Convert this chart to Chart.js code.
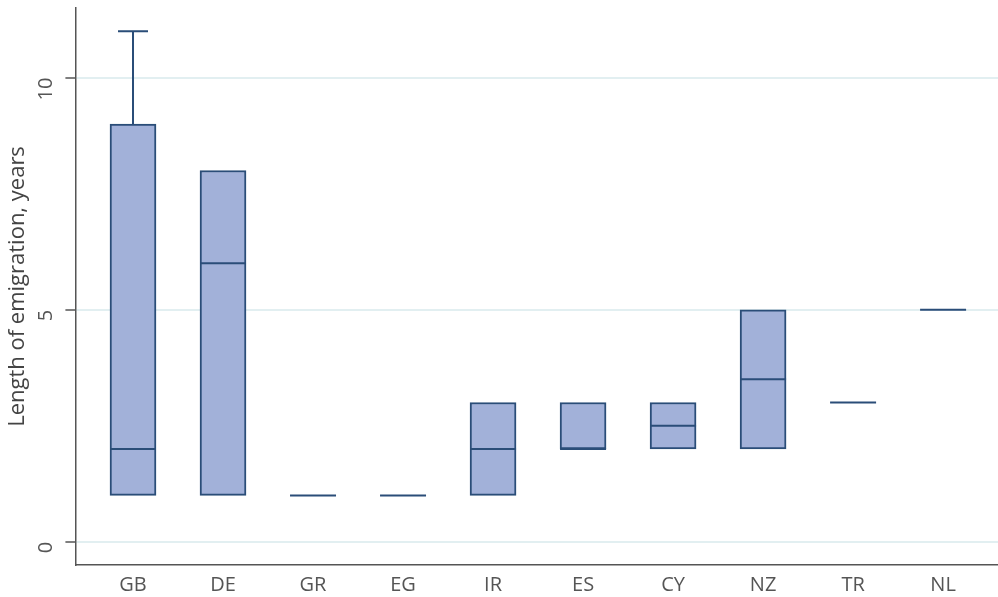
<!DOCTYPE html>
<html>
<head>
<meta charset="utf-8">
<script src="https://cdn.jsdelivr.net/npm/chart.js@4/dist/chart.umd.min.js"></script>
<style>
  html, body { margin: 0; padding: 0; background: #fff; }
  canvas { display: block; }
</style>
</head>
<body>
<canvas id="boxChart" width="998" height="597"></canvas>
<script>
// Du lieu hop (box plot) theo quoc gia
const categories = ['GB', 'DE', 'GR', 'EG', 'IR', 'ES', 'CY', 'NZ', 'TR', 'NL'];
const q1Values = [1, 1, 1, 1, 1, 2, 2, 2, 3, 5];
const medianValues = [2, 6, 1, 1, 2, 2, 2.5, 3.5, 3, 5];
const q3Values = [9, 8, 1, 1, 3, 3, 3, 5, 3, 5];
const whiskerLow = [1, 1, 1, 1, 1, 2, 2, 2, 3, 5];
const whiskerHigh = [11, 8, 1, 1, 3, 3, 3, 5, 3, 5];
const yTicks = [0, 5, 10];

const boxFill = '#a2b1d9';
const boxLine = '#2a4d78';
const BOX_WIDTH = 46;
const CAP_WIDTH = 30;

// Ve trung vi va rau (whisker) bang thang do cua Chart.js
const boxExtras = {
    id: 'boxExtras',
    afterDatasetsDraw(chart) {
        const x = chart.scales.x;
        const y = chart.scales.y;
        const c = chart.ctx;
        c.save();
        c.strokeStyle = boxLine;
        c.lineWidth = 2;
        categories.forEach((cat, i) => {
            const cx = x.getPixelForValue(i);
            const half = BOX_WIDTH / 2;
            // trung vi
            const my = y.getPixelForValue(medianValues[i]);
            c.beginPath();
            c.moveTo(cx - half, my);
            c.lineTo(cx + half, my);
            c.stroke();
            // rau tren
            if (whiskerHigh[i] > q3Values[i]) {
                const top = y.getPixelForValue(whiskerHigh[i]);
                c.beginPath();
                c.moveTo(cx, y.getPixelForValue(q3Values[i]));
                c.lineTo(cx, top);
                c.moveTo(cx - CAP_WIDTH / 2, top);
                c.lineTo(cx + CAP_WIDTH / 2, top);
                c.stroke();
            }
            // rau duoi
            if (whiskerLow[i] < q1Values[i]) {
                const bot = y.getPixelForValue(whiskerLow[i]);
                c.beginPath();
                c.moveTo(cx, y.getPixelForValue(q1Values[i]));
                c.lineTo(cx, bot);
                c.moveTo(cx - CAP_WIDTH / 2, bot);
                c.lineTo(cx + CAP_WIDTH / 2, bot);
                c.stroke();
            }
        });
        c.restore();
    }
};

const ctx = document.getElementById('boxChart').getContext('2d');
Chart.defaults.font.family = '"Open Sans", sans-serif';
Chart.defaults.color = '#555';

const chart = new Chart(ctx, {
    type: 'bar',
    data: {
        datasets: [{
            label: 'Length of emigration',
            data: categories.map((cat, i) => ({ x: i, y: [q1Values[i], q3Values[i]] })),
            backgroundColor: boxFill,
            borderColor: boxLine,
            borderWidth: 2,
            borderSkipped: false,
            barThickness: BOX_WIDTH
        }]
    },
    options: {
        responsive: false,
        animation: false,
        layout: { padding: { top: 8, right: 0, left: 5, bottom: -8 } },
        plugins: {
            legend: { display: false },
            tooltip: { enabled: false }
        },
        scales: {
            x: {
                type: 'linear',
                offset: false,
                min: -0.64,
                max: 9.61,
                afterBuildTicks: (scale) => {
                    scale.ticks = categories.map((cat, i) => ({ value: i }));
                },
                ticks: {
                    callback: (v) => categories[v] ?? '',
                    font: { size: 20 },
                    color: '#555',
                    padding: 8,
                    maxRotation: 0,
                    autoSkip: false
                },
                grid: { display: false, drawTicks: false },
                border: { display: true, color: '#555', width: 1.5 }
            },
            y: {
                min: -0.5,
                max: 11.5,
                afterBuildTicks: (scale) => {
                    scale.ticks = yTicks.map(v => ({ value: v }));
                },
                afterFit: (scale) => {
                    scale.paddingTop = 0;
                    scale.paddingBottom = 0;
                },
                ticks: {
                    font: { size: 20 },
                    color: '#555',
                    minRotation: 90,
                    maxRotation: 90,
                    padding: 19
                },
                grid: {
                    color: '#e2eff1',
                    lineWidth: 2,
                    tickColor: '#555',
                    tickLength: 10,
                    tickWidth: 1.5
                },
                border: { display: true, color: '#555', width: 1.5 },
                title: {
                    display: true,
                    text: 'Length of emigration, years',
                    font: { size: 22 },
                    color: '#444',
                    padding: { top: 0, bottom: -28 }
                }
            }
        }
    },
    plugins: [boxExtras]
});
</script>
</body>
</html>
